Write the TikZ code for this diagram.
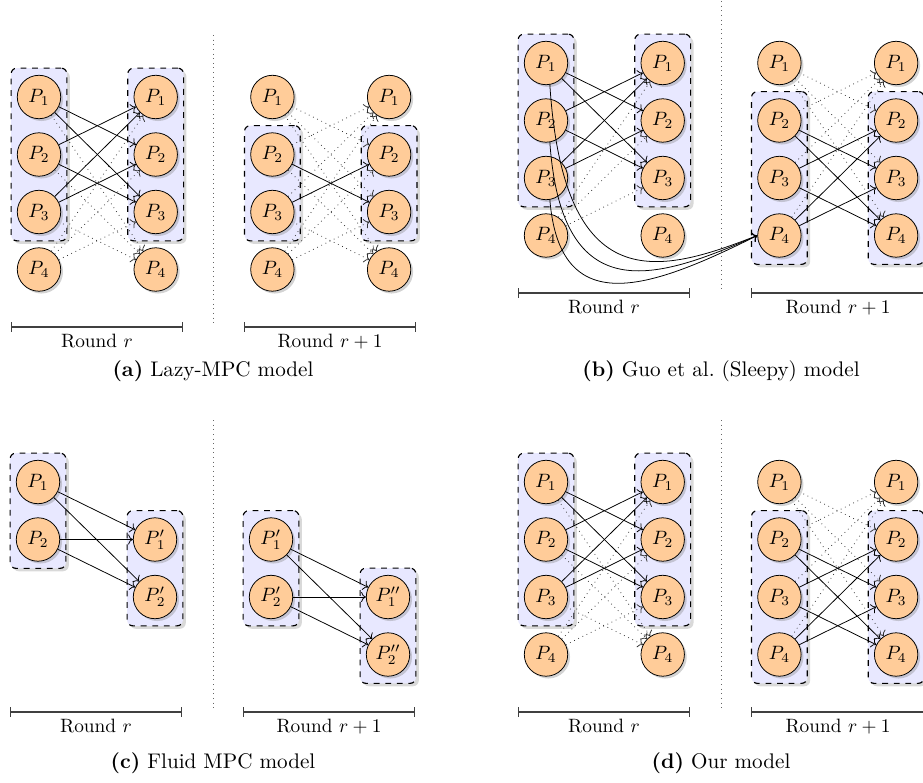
\documentclass[tikz,border=0pt]{standalone}
\usepackage{tikz}
\usetikzlibrary{calc}
\usetikzlibrary{arrows.meta}
\usetikzlibrary{shadows}
\usetikzlibrary{fit}
\usetikzlibrary{backgrounds}

\tikzset{
  proc/.style={circle, draw, fill=orange!40, minimum size=22.5pt, inner sep=0pt,
    drop shadow={shadow xshift=1.2pt, shadow yshift=-1.2pt, opacity=.35}},
  grp/.style={draw, dashed, semithick, rounded corners=3pt, fill=blue!9,
    inner xsep=3pt, inner ysep=3.5pt,
    drop shadow={shadow xshift=1.5pt, shadow yshift=-1.5pt, opacity=.3}},
  msg/.style={->},
  idle/.style={->, dotted, black!80},
  rnd/.style={{Bar[width=5pt]}-{Bar[width=5pt]}, semithick, draw=black!75},
  divider/.style={dotted, black!60},
  captext/.style={font=\fontsize{10.95}{13.6}\selectfont}
}

\begin{document}
\begin{tikzpicture}[x=0.518pt, y=-0.518pt]
\useasboundingbox (0,0) rectangle (923,783);

\foreach \n/\ox/\oy in {a/39/97, b/546/63, d/546/482}
  \foreach \k in {0,...,3}
    \foreach \i in {1,...,4}
      \node[proc] (\n\k\i) at ({\ox+116.7*\k}, {\oy+57.5*(\i-1)}) {$P_{\i}$};

\node[proc] (c01) at (38,482) {$P_1$};
\node[proc] (c02) at (38,539.5) {$P_2$};
\node[proc] (c11) at (155,539.5) {$P'_1$};
\node[proc] (c12) at (155,597) {$P'_2$};
\node[proc] (c21) at (271,539.5) {$P'_1$};
\node[proc] (c22) at (271,597) {$P'_2$};
\node[proc] (c31) at (388,597) {$P''_1$};
\node[proc] (c32) at (388,654.5) {$P''_2$};

\begin{scope}[on background layer]
  \node[grp, fit=(a01)(a03)] (ga0) {};
  \node[grp, fit=(a11)(a13)] (ga1) {};
  \node[grp, fit=(a22)(a23)] (ga2) {};
  \node[grp, fit=(a32)(a33)] (ga3) {};
  \node[grp, fit=(b01)(b03)] (gb0) {};
  \node[grp, fit=(b11)(b13)] (gb1) {};
  \node[grp, fit=(b22)(b24)] (gb2) {};
  \node[grp, fit=(b32)(b34)] (gb3) {};
  \node[grp, fit=(c01)(c02)] (gc0) {};
  \node[grp, fit=(c11)(c12)] (gc1) {};
  \node[grp, fit=(c21)(c22)] (gc2) {};
  \node[grp, fit=(c31)(c32)] (gc3) {};
  \node[grp, fit=(d01)(d03)] (gd0) {};
  \node[grp, fit=(d11)(d13)] (gd1) {};
  \node[grp, fit=(d22)(d24)] (gd2) {};
  \node[grp, fit=(d32)(d34)] (gd3) {};
\end{scope}

\foreach \n in {a,d}
  \foreach \i in {1,2,3} {
    \foreach \j in {1,2,3} {\ifnum\i=\j\else\draw[msg] (\n0\i) -- (\n1\j);\fi}
    \draw[idle] (\n0\i) -- (\n14);
    \draw[idle] (\n04) -- (\n1\i);
  }

\draw[msg] (a22) -- (a33);
\draw[msg] (a23) -- (a32);
\foreach \i/\j in {1/2, 1/3, 1/4, 2/1, 2/4, 3/1, 3/4, 4/1, 4/2, 4/3}
  \draw[idle] (a2\i) -- (a3\j);

\foreach \i in {1,2,3} {
  \foreach \j in {1,2,3} {\ifnum\i=\j\else\draw[msg] (b0\i) -- (b1\j);\fi}
  \draw[idle] (b04) -- (b1\i);
}
\draw[msg] (b01.-80) .. controls +(14,216) and +(-97,38) .. (b24.west);
\draw[msg] (b02.-80) .. controls +(12,170) and +(-100,44) .. (b24.west);
\draw[msg] (b03.-80) .. controls +(10,120) and +(-110,55) .. (b24.west);

\foreach \n in {b,d}
  \foreach \i in {2,3,4} {
    \foreach \j in {2,3,4} {\ifnum\i=\j\else\draw[msg] (\n2\i) -- (\n3\j);\fi}
    \draw[idle] (\n21) -- (\n3\i);
    \draw[idle] (\n2\i) -- (\n31);
  }

\foreach \i in {1,2}
  \foreach \j in {1,2} {
    \draw[msg] (c0\i) -- (c1\j);
    \draw[msg] (c2\i) -- (c3\j);
  }

\draw[divider] (213,35) -- (213,325);
\draw[divider] (721,1) -- (721,291);
\draw[divider] (213,420) -- (213,710);
\draw[divider] (721,420) -- (721,710);

\draw[rnd] (11,327) -- node[below] (ra0) {Round $r$} (183,327);
\draw[rnd] (244,327) -- node[below] (ra1) {Round $r+1$} (416,327);
\draw[rnd] (518,293) -- node[below] (rb0) {Round $r$} (690,293);
\draw[rnd] (751,293) -- node[below] (rb1) {Round $r+1$} (925,293);
\draw[rnd] (10,712) -- node[below] (rc0) {Round $r$} (182,712);
\draw[rnd] (243,712) -- node[below] (rc1) {Round $r+1$} (415,712);
\draw[rnd] (518,712) -- node[below] (rd0) {Round $r$} (690,712);
\draw[rnd] (751,712) -- node[below] (rd1) {Round $r+1$} (925,712);

\node[captext] (capa) at (213,371) {\textbf{(a)} Lazy-MPC model};
\node[captext] (capb) at (721,371) {\textbf{(b)} Guo et al.\ (Sleepy) model};
\node[captext] (capc) at (213,763) {\textbf{(c)} Fluid MPC model};
\node[captext] (capd) at (721,763) {\textbf{(d)} Our model};

\end{tikzpicture}
\end{document}
